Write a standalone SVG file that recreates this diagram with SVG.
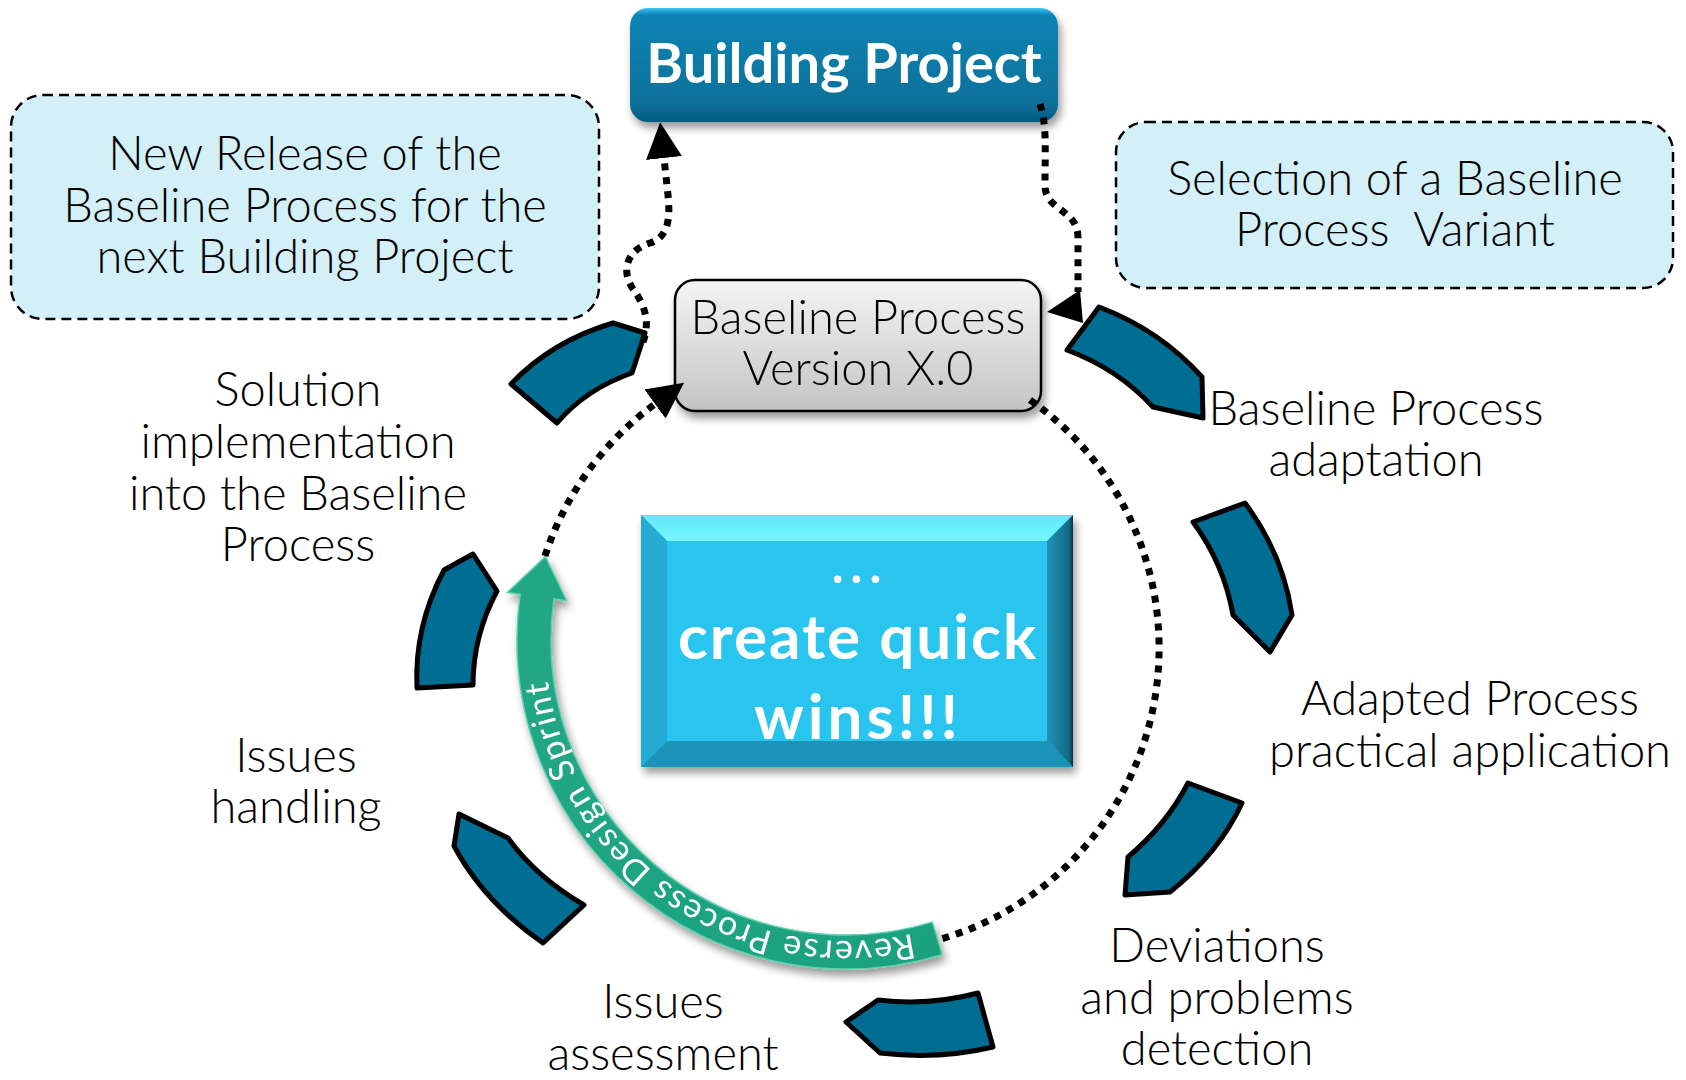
<svg xmlns="http://www.w3.org/2000/svg" width="1686" height="1080" viewBox="0 0 1686 1080">
<defs>
<style>
.lbl{font-family:Lato,"Open Sans","Liberation Sans",sans-serif;font-weight:300;font-size:47px;fill:#000;text-anchor:middle}
.bold{font-family:Lato,"Open Sans","Liberation Sans",sans-serif;font-weight:bold;fill:#fff;text-anchor:middle}
.seg{fill:#006d93;stroke:#000;stroke-width:5;stroke-linejoin:round}
.dot{fill:none;stroke:#000;stroke-width:7;stroke-dasharray:7 7}
.callout{fill:#d3f0f8;stroke:#000;stroke-width:2.5;stroke-dasharray:10 6}
</style>
<linearGradient id="gBuild" x1="0" y1="0" x2="0" y2="1">
<stop offset="0" stop-color="#3cc4f2"/>
<stop offset="0.06" stop-color="#0b84b4"/>
<stop offset="0.85" stop-color="#087099"/>
<stop offset="1" stop-color="#055a7e"/>
</linearGradient>
<linearGradient id="gGray" x1="0" y1="0" x2="0" y2="1">
<stop offset="0" stop-color="#f4f4f4"/>
<stop offset="1" stop-color="#c4c4c4"/>
</linearGradient>
<linearGradient id="gTop" x1="0" y1="0" x2="0" y2="1">
<stop offset="0" stop-color="#5ee8fb"/>
<stop offset="1" stop-color="#78f6ff"/>
</linearGradient>
<linearGradient id="gRight" x1="0" y1="0" x2="1" y2="0">
<stop offset="0" stop-color="#1f93b8"/>
<stop offset="0.85" stop-color="#156a86"/>
<stop offset="1" stop-color="#0a3442"/>
</linearGradient>
<linearGradient id="gGreen" x1="0" y1="0" x2="1" y2="1">
<stop offset="0" stop-color="#22a884"/>
<stop offset="1" stop-color="#1da17f"/>
</linearGradient>
<filter id="sh" x="-10%" y="-10%" width="125%" height="140%">
<feGaussianBlur in="SourceAlpha" stdDeviation="4"/>
<feOffset dx="3" dy="6"/>
<feComponentTransfer><feFuncA type="linear" slope="0.4"/></feComponentTransfer>
<feMerge><feMergeNode/><feMergeNode in="SourceGraphic"/></feMerge>
</filter>
<marker id="ah" viewBox="0 0 10 10" refX="0" refY="5" markerWidth="36" markerHeight="36" markerUnits="userSpaceOnUse" orient="auto">
<path d="M0,0 L10,5 L0,10 z" fill="#000"/>
</marker>
<path id="tp" d="M923.9,930.7 A301,301 0 0 1 545,640" fill="none"/>
</defs>
<rect width="1686" height="1080" fill="#fff"/>

<g id="callout-new-release">
<rect class="callout" x="11" y="95" width="588" height="224" rx="32"/>
<text class="lbl" x="305" y="170">New Release of the</text>
<text class="lbl" x="305" y="222">Baseline Process for the</text>
<text class="lbl" x="305" y="273">next Building Project</text>
</g>

<g id="callout-selection">
<rect class="callout" x="1116" y="122" width="557" height="166" rx="30"/>
<text class="lbl" x="1395" y="195">Selection of a Baseline</text>
<text class="lbl" x="1395" y="246" xml:space="preserve">Process  Variant</text>
</g>

<g id="building-project" filter="url(#sh)">
<rect x="630" y="8" width="428" height="114" rx="18" fill="url(#gBuild)"/>
<text class="bold" x="844" y="83" font-size="56">Building Project</text>
</g>

<g id="baseline-process" filter="url(#sh)">
<rect x="675" y="280" width="366" height="131" rx="20" fill="url(#gGray)" stroke="#000" stroke-width="2.5"/>
<text class="lbl" x="858" y="334">Baseline Process</text>
<text class="lbl" x="858" y="385">Version X.0</text>
</g>

<g id="quick-wins" filter="url(#sh)">
<rect x="641" y="515" width="432" height="252" fill="#2bc5ef"/>
<polygon points="641,515 1073,515 1047,541 667,541" fill="url(#gTop)"/>
<polygon points="641,515 667,541 667,741 641,767" fill="#26acd4"/>
<polygon points="641,767 667,741 1047,741 1073,767" fill="#1f93b9"/>
<polygon points="1073,515 1073,767 1047,741 1047,541" fill="url(#gRight)"/>
<text class="bold" x="860" y="583" font-size="50" letter-spacing="7">...</text>
<text class="bold" x="858" y="659" font-size="62" letter-spacing="2">create quick</text>
<text class="bold" x="858" y="739" font-size="62" letter-spacing="4">wins!!!</text>
</g>

<g id="seg-solution"><path class="seg" d="M511,384 Q552,341 613,323 L645,333 L632,373 Q586,389 557,423 Z"/></g>
<g id="seg-left"><path class="seg" d="M417,688 Q414,627 444,570 L473,554 L497,591 Q473,636 473,685 Z"/></g>
<g id="seg-lower-left"><path class="seg" d="M454,846 L459,814 L508,838 Q536,877 584,905 L543,943 Q484,902 454,846 Z"/></g>
<g id="seg-bottom"><path class="seg" d="M993,1047 Q938,1060 880,1053 L846,1022 L878,1000 Q930,1006 978,993 Z"/></g>
<g id="seg-lower-right"><path class="seg" d="M1188,783 L1242,803 Q1219,853 1170,892 L1125,895 L1128,857 Q1167,824 1188,783 Z"/></g>
<g id="seg-right"><path class="seg" d="M1193,522 L1245,503 Q1283,554 1292,615 L1270,652 L1233,615 Q1224,564 1193,522 Z"/></g>
<g id="seg-top-right"><path class="seg" d="M1067,350 L1099,307 Q1160,330 1202,377 L1203,418 L1153,407 Q1118,369 1067,350 Z"/></g>

<g id="sprint-arrow" filter="url(#sh)">
<path d="M942.2,954.6 A329,329 0 0 1 520.2,594.2 L507.3,592.4 L545.4,556.6 L566.7,600.7 L553.9,598.9 A295,295 0 0 0 932.3,922.1 Z" fill="url(#gGreen)" stroke="#5cd0ae" stroke-width="1.5"/>
<text font-family="Lato,'Open Sans','Liberation Sans',sans-serif" font-size="34" fill="#fff" letter-spacing="1.7"><textPath href="#tp" startOffset="12">Reverse Process Design Sprint</textPath></text>
</g>

<g id="labels">
<g id="lbl-solution">
<text class="lbl" x="298" y="406">Solution</text>
<text class="lbl" x="298" y="458">implementation</text>
<text class="lbl" x="298" y="510">into the Baseline</text>
<text class="lbl" x="298" y="561">Process</text>
</g>
<g id="lbl-adaptation">
<text class="lbl" x="1376" y="425">Baseline Process</text>
<text class="lbl" x="1376" y="476">adaptation</text>
</g>
<g id="lbl-application">
<text class="lbl" x="1470" y="715">Adapted Process</text>
<text class="lbl" x="1470" y="767">practical application</text>
</g>
<g id="lbl-deviations">
<text class="lbl" x="1217" y="962">Deviations</text>
<text class="lbl" x="1217" y="1014">and problems</text>
<text class="lbl" x="1217" y="1065">detection</text>
</g>
<g id="lbl-assessment">
<text class="lbl" x="663" y="1018">Issues</text>
<text class="lbl" x="663" y="1070">assessment</text>
</g>
<g id="lbl-handling">
<text class="lbl" x="296" y="772">Issues</text>
<text class="lbl" x="296" y="823">handling</text>
</g>
</g>

<g id="connectors">
<path class="dot" d="M1040,104 C1047,125 1045,150 1045,185 C1045,212 1078,208 1078,238 L1078,292"/>
<polygon points="1047,312 1080,290 1083,323" fill="#000"/>
<path class="dot" d="M643,342 C652,318 641,300 633,289 C621,272 626,250 650,243 C670,237 670,215 668,195 L664,158" marker-end="url(#ah)"/>
<path class="dot" d="M1030,400 A303,303 0 0 1 941,939"/>
<path class="dot" d="M545,556 A305,305 0 0 1 655,404" marker-end="url(#ah)"/>
</g>
</svg>
